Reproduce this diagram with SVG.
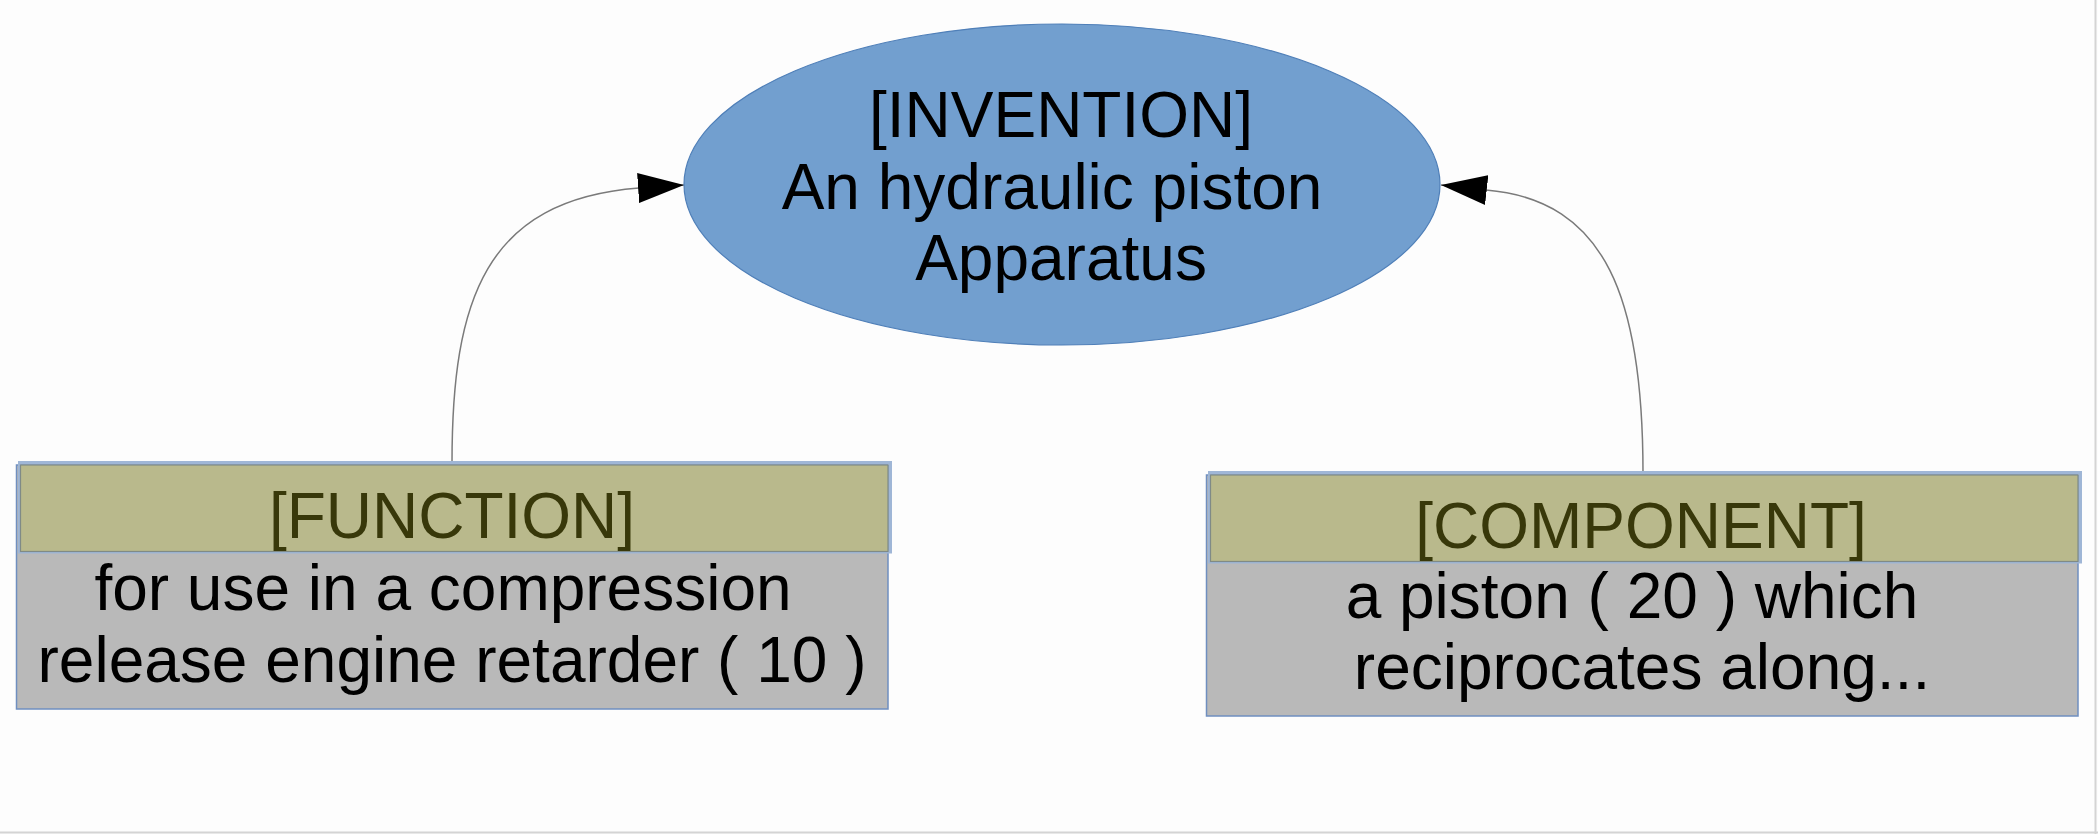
<svg xmlns="http://www.w3.org/2000/svg" width="2098" height="834" viewBox="0 0 2098 834">
  <style>
    .body { fill: #b9b9b9; stroke: #6f8fc0; stroke-width: 1.5; }
    .hdr-outer { fill: none; stroke: #9fb6d6; stroke-width: 3; }
    .hdr { fill: #b9b98c; stroke: #7f8a86; stroke-width: 1.2; }
    .ell { fill: #729fcf; stroke: #4f7fb8; stroke-width: 1.2; }
    .t { font-family: "Liberation Sans", Arial, sans-serif; font-size: 64px; text-anchor: middle; fill: #000; }
    .th { fill: #38380a; }
    .edge { fill: none; stroke: #7a7a7a; stroke-width: 1.5; }
  </style>
  <defs>
    <marker id="arrow" markerUnits="userSpaceOnUse" markerWidth="46" markerHeight="30" viewBox="0 0 46 30" refX="46" refY="15" orient="auto">
      <path d="M0,0 L46,15 L0,30 Z" fill="#000"/>
    </marker>
  </defs>
  <rect x="0" y="0" width="2098" height="834" fill="#fdfdfd"/>
  <line x1="2095.5" y1="0" x2="2095.5" y2="834" stroke="#d4d4d4" stroke-width="2"/>
  <line x1="0" y1="832.5" x2="2098" y2="832.5" stroke="#d4d4d4" stroke-width="2"/>

  <g id="connectors">
    <path class="edge" d="M452,463 C452,300 485,200 639,188 L684,185" marker-end="url(#arrow)"/>
    <path class="edge" d="M1643,473 C1643,300 1607,200 1486,190 L1441,185" marker-end="url(#arrow)"/>
  </g>

  <g id="invention">
    <ellipse class="ell" cx="1062" cy="184.5" rx="378" ry="160.5"/>
    <text class="t" x="1061" y="137">[INVENTION]</text>
    <text class="t" x="1052" y="208.5">An hydraulic piston</text>
    <text class="t" x="1061" y="280">Apparatus</text>
  </g>

  <g id="function">
    <rect class="body" x="16.5" y="465" width="871.5" height="244"/>
    <rect class="hdr-outer" x="19.5" y="462.5" width="871" height="89.5"/>
    <rect class="hdr" x="20.5" y="465" width="867.5" height="86.5"/>
    <text class="t th" x="452" y="538">[FUNCTION]</text>
    <text class="t" x="443" y="610">for use in a compression</text>
    <text class="t" x="452" y="682">release engine retarder ( 10 )</text>
  </g>

  <g id="component">
    <rect class="body" x="1206.5" y="475" width="871.5" height="241"/>
    <rect class="hdr-outer" x="1209.5" y="472.5" width="871" height="89.5"/>
    <rect class="hdr" x="1210.5" y="475" width="867.5" height="86.5"/>
    <text class="t th" x="1641" y="548">[COMPONENT]</text>
    <text class="t" x="1632" y="618">a piston ( 20 ) which</text>
    <text class="t" x="1642" y="689">reciprocates along...</text>
  </g>
</svg>
